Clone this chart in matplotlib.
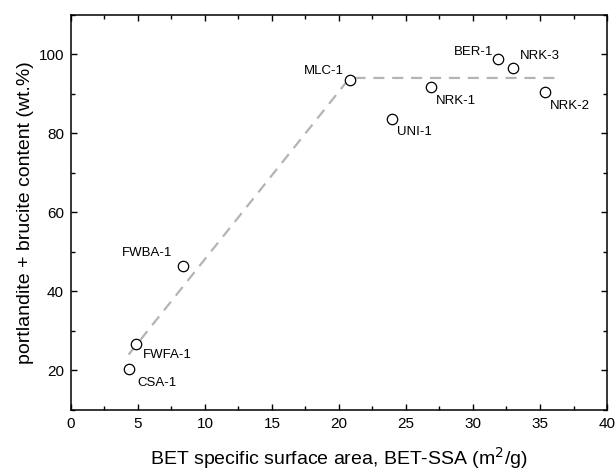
import matplotlib
matplotlib.use("Agg")
import matplotlib.pyplot as plt
from matplotlib.ticker import MultipleLocator

plt.rcParams['font.family'] = ['Liberation Sans', 'DejaVu Sans']

# Data
samples = ["CSA-1", "FWFA-1", "FWBA-1", "MLC-1", "UNI-1", "NRK-1", "BER-1", "NRK-3", "NRK-2"]
bet_ssa = [4.35, 4.87, 8.35, 20.8, 23.95, 26.85, 31.85, 33.0, 35.35]
content = [20.4, 26.6, 46.5, 93.6, 83.5, 91.6, 98.7, 96.4, 90.5]

# label offsets (points) and alignment per sample
label_offsets = {
    "CSA-1": (6, -10, "left"),
    "FWFA-1": (5, -8, "left"),
    "FWBA-1": (-8, 9, "right"),
    "MLC-1": (-4, 6, "right"),
    "UNI-1": (4, -9, "left"),
    "NRK-1": (4, -10, "left"),
    "BER-1": (-3, 5, "right"),
    "NRK-3": (5, 9, "left"),
    "NRK-2": (4, -10, "left"),
}

# trend line (bilinear)
trend_x = [4.3, 20.8, 36.1]
trend_y = [24.0, 94.0, 94.0]

fig = plt.figure(figsize=(6.15, 4.70), dpi=100)
ax = fig.add_axes([0.1154, 0.1277, 0.987 - 0.1154, 0.9687 - 0.1277])

ax.plot(trend_x, trend_y, color="#b4b4b4", lw=1.6, dashes=(5, 3.5), zorder=1)
ax.plot(bet_ssa, content, linestyle="none", marker="o", markersize=7.5,
        markerfacecolor="white", markeredgecolor="black", markeredgewidth=0.9, zorder=3)

for s, x, y in zip(samples, bet_ssa, content):
    dx, dy, ha = label_offsets[s]
    ax.annotate(s, (x, y), xytext=(dx, dy), textcoords="offset points",
                ha=ha, va="center", fontsize=9.5, color="black")

ax.set_xlim(0, 40)
ax.set_ylim(10, 110)
ax.xaxis.set_major_locator(MultipleLocator(5))
ax.xaxis.set_minor_locator(MultipleLocator(2.5))
ax.yaxis.set_major_locator(MultipleLocator(20))
ax.yaxis.set_minor_locator(MultipleLocator(10))
ax.set_yticks([20, 40, 60, 80, 100])
ax.tick_params(which="both", direction="in", top=True, right=True, labelsize=11, width=1.0)
ax.tick_params(which="major", length=4.5, pad=5)
ax.tick_params(which="minor", length=2.8)
for sp in ax.spines.values():
    sp.set_linewidth(1.1)

ax.set_xlabel("BET specific surface area, BET-SSA (m$^2$/g)", fontsize=14, labelpad=10)
ax.set_ylabel("portlandite + brucite content (wt.%)", fontsize=14, labelpad=3)

fig.savefig("out.png", dpi=100)
